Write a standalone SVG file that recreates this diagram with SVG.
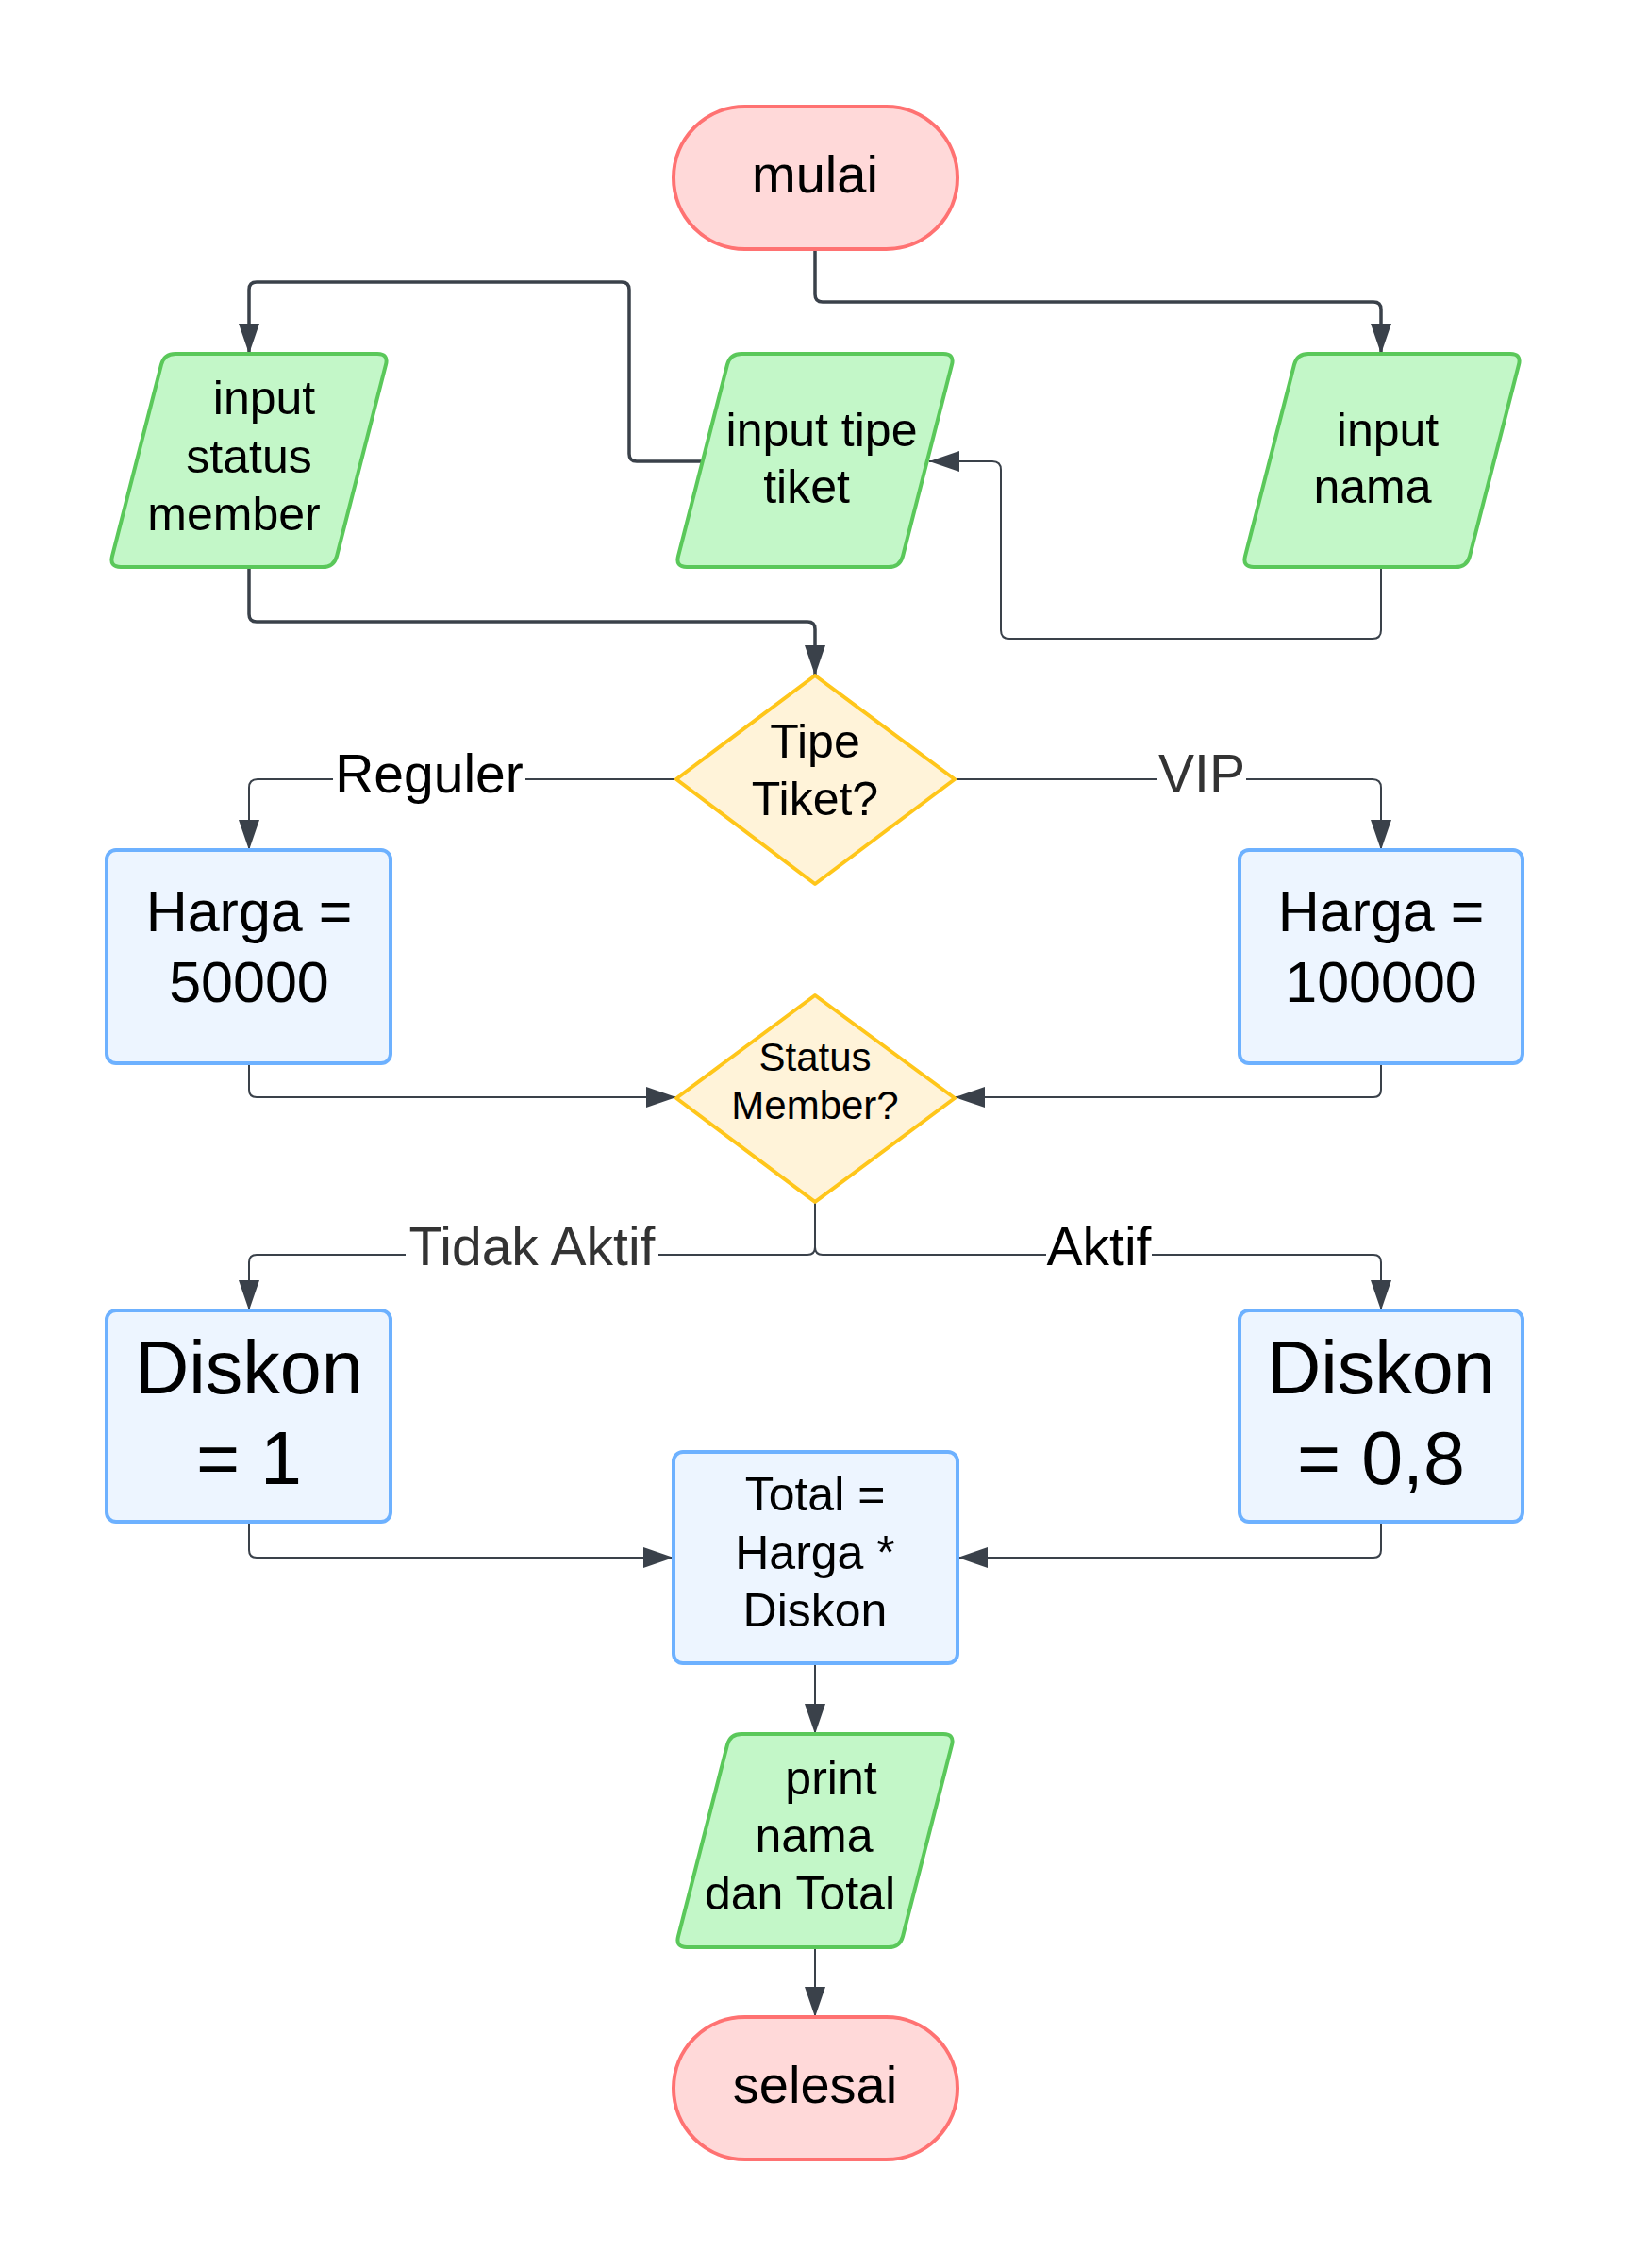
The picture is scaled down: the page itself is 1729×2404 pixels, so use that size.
<svg xmlns="http://www.w3.org/2000/svg" xmlns:xlink="http://www.w3.org/1999/xlink" width="1729" height="2404" viewBox="0 0 1729 2404">
<style>
text{font-family:"Liberation Sans",Arial,sans-serif;fill:#000;text-anchor:middle}
.term{fill:#FFD9D9;stroke:#FF7272;stroke-width:4}
.io{fill:#C3F7C8;stroke:#5AC85A;stroke-width:4}
.proc{fill:#EDF5FF;stroke:#6DB1FF;stroke-width:4}
.dec{fill:#FFF3D9;stroke:#FFC61A;stroke-width:4;stroke-linejoin:round}
.c{fill:none;stroke:#3A414A;stroke-width:2}
.ct{fill:none;stroke:#3A414A;stroke-width:3.5}
.lblbg{fill:#fff}
.lbl{font-size:57px}
</style>
<defs>
<path id="para" d="M 70,0 L 284,0 Q 296,0 293,11.6 L 241,214.4 Q 238,226 226,226 L 12,226 Q 0,226 3,214.4 L 55,11.6 Q 58,0 70,0 Z"/>
<marker id="ah" markerUnits="userSpaceOnUse" markerWidth="34" markerHeight="22" refX="32" refY="11" orient="auto">
<path d="M0,0 L32,11 L0,22 Z" fill="#3A414A"/>
</marker>
</defs>
<rect width="1729" height="2404" fill="#fff"/>
<g id="connectors">
<path class="ct" d="M864,264 L864,312 Q864,320 872,320 L1456,320 Q1464,320 1464,328 L1464,375" marker-end="url(#ah)"/>
<path class="c" d="M1464,601 L1464,668 Q1464,677 1455,677 L1070,677 Q1061,677 1061,668 L1061,498 Q1061,489 1052,489 L985,489" marker-end="url(#ah)"/>
<path class="ct" d="M745,489 L675,489 Q667,489 667,481 L667,307 Q667,299 659,299 L272,299 Q264,299 264,307 L264,375" marker-end="url(#ah)"/>
<path class="ct" d="M264,601 L264,651 Q264,659 272,659 L856,659 Q864,659 864,667 L864,716" marker-end="url(#ah)"/>
<path class="c" d="M717,826 L273,826 Q264,826 264,835 L264,901" marker-end="url(#ah)"/>
<path class="c" d="M1012,826 L1455,826 Q1464,826 1464,835 L1464,901" marker-end="url(#ah)"/>
<path class="c" d="M264,1127 L264,1155 Q264,1163 272,1163 L717,1163" marker-end="url(#ah)"/>
<path class="c" d="M1464,1127 L1464,1155 Q1464,1163 1456,1163 L1012,1163" marker-end="url(#ah)"/>
<path class="c" d="M864,1274 L864,1322 Q864,1330 856,1330 L272,1330 Q264,1330 264,1338 L264,1389" marker-end="url(#ah)"/>
<path class="c" d="M864,1274 L864,1322 Q864,1330 872,1330 L1456,1330 Q1464,1330 1464,1338 L1464,1389" marker-end="url(#ah)"/>
<path class="c" d="M264,1613 L264,1643 Q264,1651 272,1651 L714,1651" marker-end="url(#ah)"/>
<path class="c" d="M1464,1613 L1464,1643 Q1464,1651 1456,1651 L1015,1651" marker-end="url(#ah)"/>
<path class="c" d="M864,1763 L864,1838" marker-end="url(#ah)"/>
<path class="c" d="M864,2063 L864,2138" marker-end="url(#ah)"/>
<rect class="lblbg" x="353" y="790" width="204" height="66"/>
<text class="lbl" x="455" y="840">Reguler</text>
<rect class="lblbg" x="1227" y="790" width="94" height="66"/>
<text class="lbl" x="1274" y="840" style="fill:#333">VIP</text>
<rect class="lblbg" x="430" y="1294" width="268" height="66"/>
<text class="lbl" x="564" y="1341" style="fill:#333">Tidak Aktif</text>
<rect class="lblbg" x="1109" y="1294" width="112" height="66"/>
<text class="lbl" x="1165" y="1341">Aktif</text>
</g>
<g id="mulai">
<rect class="term" x="714" y="113" width="301" height="151" rx="75.5"/>
<text x="864" y="204" font-size="56">mulai</text>
</g>
<g id="input-status-member">
<use xlink:href="#para" class="io" x="116" y="375"/>
<text font-size="50"><tspan x="280" y="439">input</tspan><tspan x="264" y="501">status</tspan><tspan x="248" y="562">member</tspan></text>
</g>
<g id="input-tipe-tiket">
<use xlink:href="#para" class="io" x="716" y="375"/>
<text font-size="50"><tspan x="871" y="473">input tipe</tspan><tspan x="855" y="533">tiket</tspan></text>
</g>
<g id="input-nama">
<use xlink:href="#para" class="io" x="1317" y="375"/>
<text font-size="50"><tspan x="1471" y="473">input</tspan><tspan x="1455" y="533">nama</tspan></text>
</g>
<g id="tipe-tiket">
<polygon class="dec" points="864,716 1012,826 864,937 717,826"/>
<text font-size="50"><tspan x="864" y="803">Tipe</tspan><tspan x="864" y="864">Tiket?</tspan></text>
</g>
<g id="harga-50000">
<rect class="proc" x="113" y="901" width="301" height="226" rx="10"/>
<text font-size="61"><tspan x="264" y="987">Harga =</tspan><tspan x="264" y="1062">50000</tspan></text>
</g>
<g id="harga-100000">
<rect class="proc" x="1314" y="901" width="300" height="226" rx="10"/>
<text font-size="61"><tspan x="1464" y="987">Harga =</tspan><tspan x="1464" y="1062">100000</tspan></text>
</g>
<g id="status-member">
<polygon class="dec" points="864,1055 1012,1164 864,1274 717,1164"/>
<text font-size="42"><tspan x="864" y="1135">Status</tspan><tspan x="864" y="1186">Member?</tspan></text>
</g>
<g id="diskon-1">
<rect class="proc" x="113" y="1389" width="301" height="224" rx="10"/>
<text font-size="79"><tspan x="264" y="1477">Diskon</tspan><tspan x="264" y="1573">= 1</tspan></text>
</g>
<g id="diskon-08">
<rect class="proc" x="1314" y="1389" width="300" height="224" rx="10"/>
<text font-size="79"><tspan x="1464" y="1477">Diskon</tspan><tspan x="1464" y="1573">= 0,8</tspan></text>
</g>
<g id="total">
<rect class="proc" x="714" y="1539" width="301" height="224" rx="10"/>
<text font-size="50"><tspan x="864" y="1601">Total =</tspan><tspan x="864" y="1663">Harga *</tspan><tspan x="864" y="1724">Diskon</tspan></text>
</g>
<g id="print">
<use xlink:href="#para" class="io" x="716" y="1838"/>
<text font-size="50"><tspan x="881" y="1902">print</tspan><tspan x="863" y="1963">nama</tspan><tspan x="848" y="2024">dan Total</tspan></text>
</g>
<g id="selesai">
<rect class="term" x="714" y="2138" width="301" height="151" rx="75.5"/>
<text x="864" y="2229" font-size="56">selesai</text>
</g>
</svg>
